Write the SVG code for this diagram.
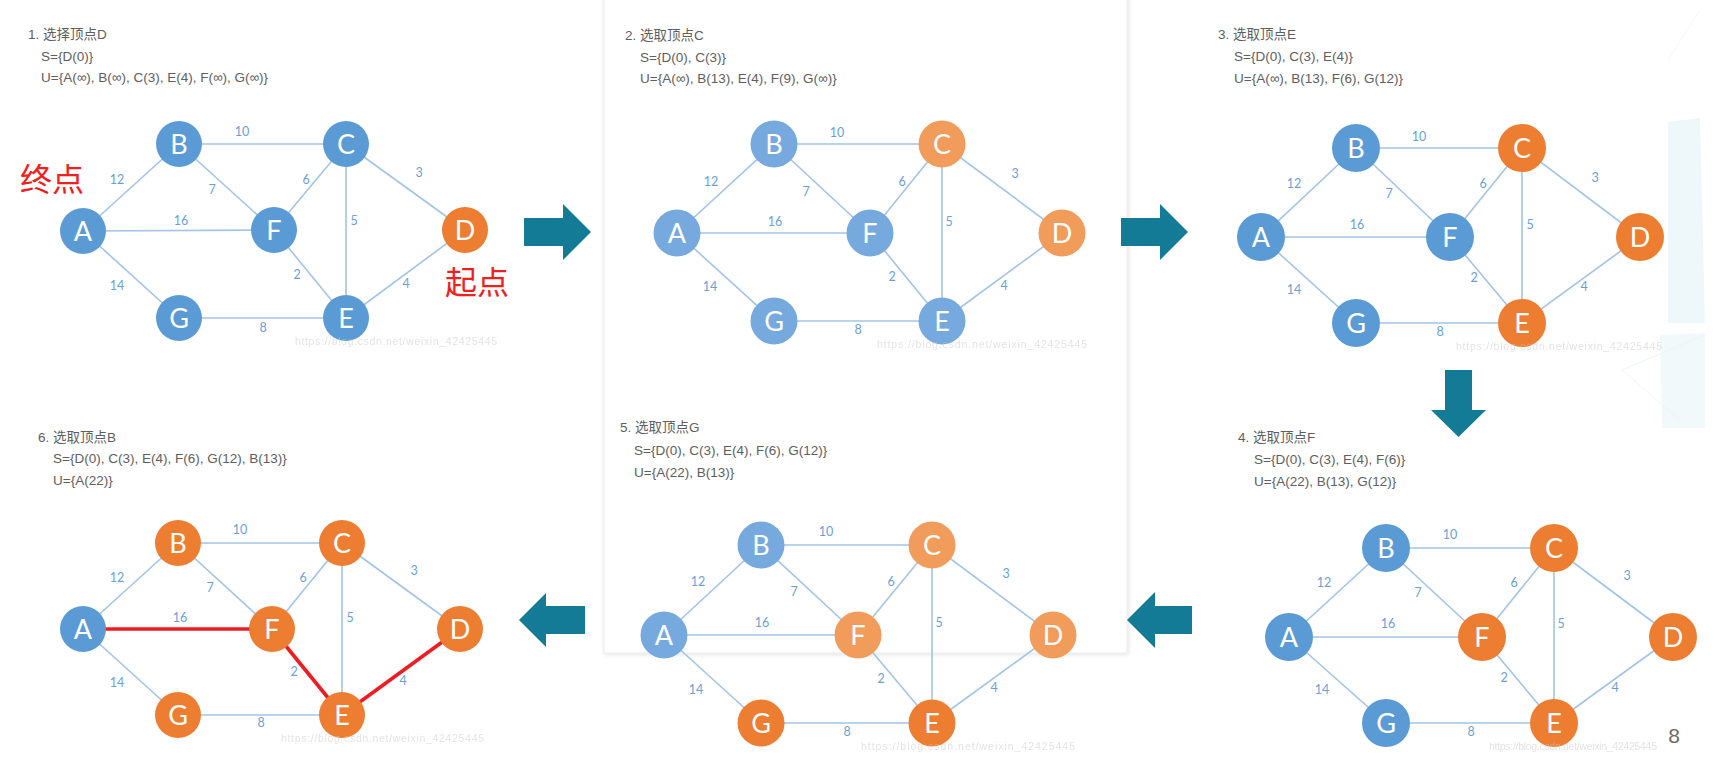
<svg xmlns="http://www.w3.org/2000/svg" width="1728" height="781" viewBox="0 0 1728 781">
<defs>
<style>
.bl{fill:#5b9bd5}.or{fill:#ed7d31}.lbl{fill:#76aade}.lor{fill:#f29c5c}
.e{stroke:#a3c4e6;stroke-width:1.6;fill:none}
.red{stroke:#ee1d23;stroke-width:3.6;fill:none}
.lab{font-family:Lato,"Liberation Sans",sans-serif;font-size:12.5px;fill:#6a9fd6;text-anchor:middle}
.nl{font-family:Lato,"Open Sans",sans-serif;font-size:27px;fill:#fff;text-anchor:middle}
.tx{font-family:"Liberation Sans","Noto Sans CJK SC",sans-serif;font-size:13.5px;fill:#5e5e5e}
.big{font-family:"Noto Sans CJK SC",sans-serif;font-size:32px;fill:#f0201e;text-anchor:middle}
.arr{fill:#137b95}
.w{font-family:"Liberation Sans",sans-serif;font-size:10.5px;fill:#c8c8c8;opacity:0.5}
</style>
<filter id="sh" x="-5%" y="-5%" width="110%" height="110%"><feDropShadow dx="1" dy="1" stdDeviation="2" flood-color="#000" flood-opacity="0.12"/></filter>
</defs>
<rect width="1728" height="781" fill="#ffffff"/>
<g id="bg-deco" opacity="0.6">
<polygon points="1668,122 1700,118 1705,323 1668,323" fill="#e3f2f6"/>
<polygon points="1660,335 1705,333 1705,428 1662,428" fill="#ebf6f9"/>
<line x1="1622" y1="370" x2="1705" y2="335" stroke="#e3eef2"/>
<line x1="1622" y1="370" x2="1680" y2="420" stroke="#e3eef2"/>
<line x1="1668" y1="60" x2="1700" y2="10" stroke="#eef3f5"/>
</g>
<rect id="card" x="604" y="-4" width="523" height="657" fill="#ffffff" stroke="#ebebeb" filter="url(#sh)"/>

<g id="texts">
<text class="tx" x="28" y="39">1. 选择顶点D</text>
<text class="tx" x="41" y="61">S={D(0)}</text>
<text class="tx" x="41" y="82">U={A(∞), B(∞), C(3), E(4), F(∞), G(∞)}</text>
<text class="tx" x="625" y="40">2. 选取顶点C</text>
<text class="tx" x="640" y="62">S={D(0), C(3)}</text>
<text class="tx" x="640" y="83">U={A(∞), B(13), E(4), F(9), G(∞)}</text>
<text class="tx" x="1218" y="39">3. 选取顶点E</text>
<text class="tx" x="1234" y="61">S={D(0), C(3), E(4)}</text>
<text class="tx" x="1234" y="83">U={A(∞), B(13), F(6), G(12)}</text>
<text class="tx" x="1238" y="442">4. 选取顶点F</text>
<text class="tx" x="1254" y="464">S={D(0), C(3), E(4), F(6)}</text>
<text class="tx" x="1254" y="486">U={A(22), B(13), G(12)}</text>
<text class="tx" x="620" y="432">5. 选取顶点G</text>
<text class="tx" x="634" y="455">S={D(0), C(3), E(4), F(6), G(12)}</text>
<text class="tx" x="634" y="477">U={A(22), B(13)}</text>
<text class="tx" x="38" y="442">6. 选取顶点B</text>
<text class="tx" x="53" y="463">S={D(0), C(3), E(4), F(6), G(12), B(13)}</text>
<text class="tx" x="53" y="485">U={A(22)}</text>
<text class="big" x="52" y="191">终点</text>
<text class="big" x="477" y="294">起点</text>
</g>

<g id="connectors">
<g id="edges-p1">
<line class="e" x1="83" y1="231" x2="179" y2="144"/>
<line class="e" x1="83" y1="231" x2="274" y2="230"/>
<line class="e" x1="83" y1="231" x2="179" y2="318"/>
<line class="e" x1="179" y1="144" x2="346" y2="144"/>
<line class="e" x1="179" y1="144" x2="274" y2="230"/>
<line class="e" x1="346" y1="144" x2="274" y2="230"/>
<line class="e" x1="346" y1="144" x2="346" y2="318"/>
<line class="e" x1="346" y1="144" x2="465" y2="230"/>
<line class="e" x1="274" y1="230" x2="346" y2="318"/>
<line class="e" x1="179" y1="318" x2="346" y2="318"/>
<line class="e" x1="346" y1="318" x2="465" y2="230"/>
</g>
<g id="edges-p2">
<line class="e" x1="677" y1="233" x2="774" y2="144"/>
<line class="e" x1="677" y1="233" x2="870" y2="233"/>
<line class="e" x1="677" y1="233" x2="774" y2="321"/>
<line class="e" x1="774" y1="144" x2="942" y2="144"/>
<line class="e" x1="774" y1="144" x2="870" y2="233"/>
<line class="e" x1="942" y1="144" x2="870" y2="233"/>
<line class="e" x1="942" y1="144" x2="942" y2="321"/>
<line class="e" x1="942" y1="144" x2="1062" y2="233"/>
<line class="e" x1="870" y1="233" x2="942" y2="321"/>
<line class="e" x1="774" y1="321" x2="942" y2="321"/>
<line class="e" x1="942" y1="321" x2="1062" y2="233"/>
</g>
<g id="edges-p3">
<line class="e" x1="1261" y1="237" x2="1356" y2="148"/>
<line class="e" x1="1261" y1="237" x2="1450" y2="237"/>
<line class="e" x1="1261" y1="237" x2="1356" y2="323"/>
<line class="e" x1="1356" y1="148" x2="1522" y2="148"/>
<line class="e" x1="1356" y1="148" x2="1450" y2="237"/>
<line class="e" x1="1522" y1="148" x2="1450" y2="237"/>
<line class="e" x1="1522" y1="148" x2="1522" y2="323"/>
<line class="e" x1="1522" y1="148" x2="1640" y2="237"/>
<line class="e" x1="1450" y1="237" x2="1522" y2="323"/>
<line class="e" x1="1356" y1="323" x2="1522" y2="323"/>
<line class="e" x1="1522" y1="323" x2="1640" y2="237"/>
</g>
<g id="edges-p4">
<line class="e" x1="1289" y1="637" x2="1386" y2="548"/>
<line class="e" x1="1289" y1="637" x2="1482" y2="637"/>
<line class="e" x1="1289" y1="637" x2="1386" y2="723"/>
<line class="e" x1="1386" y1="548" x2="1554" y2="548"/>
<line class="e" x1="1386" y1="548" x2="1482" y2="637"/>
<line class="e" x1="1554" y1="548" x2="1482" y2="637"/>
<line class="e" x1="1554" y1="548" x2="1554" y2="723"/>
<line class="e" x1="1554" y1="548" x2="1673" y2="637"/>
<line class="e" x1="1482" y1="637" x2="1554" y2="723"/>
<line class="e" x1="1386" y1="723" x2="1554" y2="723"/>
<line class="e" x1="1554" y1="723" x2="1673" y2="637"/>
</g>
<g id="edges-p5">
<line class="e" x1="664" y1="635" x2="761" y2="545"/>
<line class="e" x1="664" y1="635" x2="858" y2="635"/>
<line class="e" x1="664" y1="635" x2="761" y2="723"/>
<line class="e" x1="761" y1="545" x2="932" y2="545"/>
<line class="e" x1="761" y1="545" x2="858" y2="635"/>
<line class="e" x1="932" y1="545" x2="858" y2="635"/>
<line class="e" x1="932" y1="545" x2="932" y2="723"/>
<line class="e" x1="932" y1="545" x2="1053" y2="635"/>
<line class="e" x1="858" y1="635" x2="932" y2="723"/>
<line class="e" x1="761" y1="723" x2="932" y2="723"/>
<line class="e" x1="932" y1="723" x2="1053" y2="635"/>
</g>
<g id="edges-p6">
<line class="e" x1="83" y1="629" x2="178" y2="543"/>
<line class="e" x1="83" y1="629" x2="178" y2="715"/>
<line class="e" x1="178" y1="543" x2="342" y2="543"/>
<line class="e" x1="178" y1="543" x2="272" y2="629"/>
<line class="e" x1="342" y1="543" x2="272" y2="629"/>
<line class="e" x1="342" y1="543" x2="342" y2="715"/>
<line class="e" x1="342" y1="543" x2="460" y2="629"/>
<line class="e" x1="178" y1="715" x2="342" y2="715"/>
<line class="red" x1="83" y1="629" x2="272" y2="629"/>
<line class="red" x1="272" y1="629" x2="342" y2="715"/>
<line class="red" x1="342" y1="715" x2="460" y2="629"/>
</g>
<g id="step-arrows">
<path class="arr" d="M524,218 H563 V204 L591,232 L563,260 V246 H524 Z"/>
<path class="arr" d="M1121,218 H1160 V204 L1188,232 L1160,260 V246 H1121 Z"/>
<path class="arr" d="M1445,370 V410 H1431 L1458.5,437 L1486,410 H1472 V370 Z"/>
<path class="arr" d="M1192,606 H1155 V592 L1127,620 L1155,648 V634 H1192 Z"/>
<path class="arr" d="M585,606 H546 V593 L519,620 L546,647 V634 H585 Z"/>
</g>
</g>

<g id="edge-labels">
<g class="lab">
<text x="242" y="136">10</text><text x="117" y="184">12</text><text x="212" y="194">7</text><text x="306" y="184">6</text><text x="419" y="177">3</text><text x="181" y="225">16</text><text x="354" y="225">5</text><text x="297" y="279">2</text><text x="406" y="288">4</text><text x="117" y="290">14</text><text x="263" y="332">8</text>
<text x="837" y="137">10</text><text x="711" y="186">12</text><text x="806" y="196">7</text><text x="902" y="186">6</text><text x="1015" y="178">3</text><text x="775" y="226">16</text><text x="949" y="226">5</text><text x="892" y="281">2</text><text x="1004" y="290">4</text><text x="710" y="291">14</text><text x="858" y="334">8</text>
<text x="1419" y="141">10</text><text x="1294" y="188">12</text><text x="1389" y="198">7</text><text x="1483" y="188">6</text><text x="1595" y="182">3</text><text x="1357" y="229">16</text><text x="1530" y="229">5</text><text x="1474" y="282">2</text><text x="1584" y="291">4</text><text x="1294" y="294">14</text><text x="1440" y="336">8</text>
<text x="1450" y="539">10</text><text x="1324" y="587">12</text><text x="1418" y="597">7</text><text x="1514" y="587">6</text><text x="1627" y="580">3</text><text x="1388" y="628">16</text><text x="1561" y="628">5</text><text x="1504" y="682">2</text><text x="1615" y="692">4</text><text x="1322" y="694">14</text><text x="1471" y="736">8</text>
<text x="826" y="536">10</text><text x="698" y="586">12</text><text x="794" y="596">7</text><text x="891" y="586">6</text><text x="1006" y="578">3</text><text x="762" y="627">16</text><text x="939" y="627">5</text><text x="881" y="683">2</text><text x="994" y="692">4</text><text x="696" y="694">14</text><text x="847" y="736">8</text>
<text x="240" y="534">10</text><text x="117" y="582">12</text><text x="210" y="592">7</text><text x="303" y="582">6</text><text x="414" y="575">3</text><text x="180" y="622">16</text><text x="350" y="622">5</text><text x="294" y="676">2</text><text x="403" y="685">4</text><text x="117" y="687">14</text><text x="261" y="727">8</text>
</g>
</g>

<g id="p1-A"><circle class="bl" cx="83" cy="231" r="23"/><text class="nl" x="83" y="240.5">A</text></g>
<g id="p1-B"><circle class="bl" cx="179" cy="144" r="23"/><text class="nl" x="179" y="153.5">B</text></g>
<g id="p1-C"><circle class="bl" cx="346" cy="144" r="23"/><text class="nl" x="346" y="153.5">C</text></g>
<g id="p1-D"><circle class="or" cx="465" cy="230" r="23"/><text class="nl" x="465" y="239.5">D</text></g>
<g id="p1-E"><circle class="bl" cx="346" cy="318" r="23"/><text class="nl" x="346" y="327.5">E</text></g>
<g id="p1-F"><circle class="bl" cx="274" cy="230" r="23"/><text class="nl" x="274" y="239.5">F</text></g>
<g id="p1-G"><circle class="bl" cx="179" cy="318" r="23"/><text class="nl" x="179" y="327.5">G</text></g>

<g id="p2-A"><circle class="lbl" cx="677" cy="233" r="23.5"/><text class="nl" x="677" y="242.5">A</text></g>
<g id="p2-B"><circle class="lbl" cx="774" cy="144" r="23.5"/><text class="nl" x="774" y="153.5">B</text></g>
<g id="p2-C"><circle class="lor" cx="942" cy="144" r="23.5"/><text class="nl" x="942" y="153.5">C</text></g>
<g id="p2-D"><circle class="lor" cx="1062" cy="233" r="23.5"/><text class="nl" x="1062" y="242.5">D</text></g>
<g id="p2-E"><circle class="lbl" cx="942" cy="321" r="23.5"/><text class="nl" x="942" y="330.5">E</text></g>
<g id="p2-F"><circle class="lbl" cx="870" cy="233" r="23.5"/><text class="nl" x="870" y="242.5">F</text></g>
<g id="p2-G"><circle class="lbl" cx="774" cy="321" r="23.5"/><text class="nl" x="774" y="330.5">G</text></g>

<g id="p3-A"><circle class="bl" cx="1261" cy="237" r="24"/><text class="nl" x="1261" y="246.5">A</text></g>
<g id="p3-B"><circle class="bl" cx="1356" cy="148" r="24"/><text class="nl" x="1356" y="157.5">B</text></g>
<g id="p3-C"><circle class="or" cx="1522" cy="148" r="24"/><text class="nl" x="1522" y="157.5">C</text></g>
<g id="p3-D"><circle class="or" cx="1640" cy="237" r="24"/><text class="nl" x="1640" y="246.5">D</text></g>
<g id="p3-E"><circle class="or" cx="1522" cy="323" r="24"/><text class="nl" x="1522" y="332.5">E</text></g>
<g id="p3-F"><circle class="bl" cx="1450" cy="237" r="24"/><text class="nl" x="1450" y="246.5">F</text></g>
<g id="p3-G"><circle class="bl" cx="1356" cy="323" r="24"/><text class="nl" x="1356" y="332.5">G</text></g>

<g id="p4-A"><circle class="bl" cx="1289" cy="637" r="24"/><text class="nl" x="1289" y="646.5">A</text></g>
<g id="p4-B"><circle class="bl" cx="1386" cy="548" r="24"/><text class="nl" x="1386" y="557.5">B</text></g>
<g id="p4-C"><circle class="or" cx="1554" cy="548" r="24"/><text class="nl" x="1554" y="557.5">C</text></g>
<g id="p4-D"><circle class="or" cx="1673" cy="637" r="24"/><text class="nl" x="1673" y="646.5">D</text></g>
<g id="p4-E"><circle class="or" cx="1554" cy="723" r="24"/><text class="nl" x="1554" y="732.5">E</text></g>
<g id="p4-F"><circle class="or" cx="1482" cy="637" r="24"/><text class="nl" x="1482" y="646.5">F</text></g>
<g id="p4-G"><circle class="bl" cx="1386" cy="723" r="24"/><text class="nl" x="1386" y="732.5">G</text></g>

<g id="p5-A"><circle class="lbl" cx="664" cy="635" r="23.5"/><text class="nl" x="664" y="644.5">A</text></g>
<g id="p5-B"><circle class="lbl" cx="761" cy="545" r="23.5"/><text class="nl" x="761" y="554.5">B</text></g>
<g id="p5-C"><circle class="lor" cx="932" cy="545" r="23.5"/><text class="nl" x="932" y="554.5">C</text></g>
<g id="p5-D"><circle class="lor" cx="1053" cy="635" r="23.5"/><text class="nl" x="1053" y="644.5">D</text></g>
<g id="p5-E"><circle class="or" cx="932" cy="723" r="23.5"/><text class="nl" x="932" y="732.5">E</text></g>
<g id="p5-F"><circle class="lor" cx="858" cy="635" r="23.5"/><text class="nl" x="858" y="644.5">F</text></g>
<g id="p5-G"><circle class="or" cx="761" cy="723" r="23.5"/><text class="nl" x="761" y="732.5">G</text></g>

<g id="p6-A"><circle class="bl" cx="83" cy="629" r="23"/><text class="nl" x="83" y="638.5">A</text></g>
<g id="p6-B"><circle class="or" cx="178" cy="543" r="23"/><text class="nl" x="178" y="552.5">B</text></g>
<g id="p6-C"><circle class="or" cx="342" cy="543" r="23"/><text class="nl" x="342" y="552.5">C</text></g>
<g id="p6-D"><circle class="or" cx="460" cy="629" r="23"/><text class="nl" x="460" y="638.5">D</text></g>
<g id="p6-E"><circle class="or" cx="342" cy="715" r="23"/><text class="nl" x="342" y="724.5">E</text></g>
<g id="p6-F"><circle class="or" cx="272" cy="629" r="23"/><text class="nl" x="272" y="638.5">F</text></g>
<g id="p6-G"><circle class="or" cx="178" cy="715" r="23"/><text class="nl" x="178" y="724.5">G</text></g>

<g id="watermarks">
<text class="w" x="295" y="345" textLength="202">https://blog.csdn.net/weixin_42425445</text>
<text class="w" x="877" y="348" textLength="210">https://blog.csdn.net/weixin_42425445</text>
<text class="w" x="1456" y="350" textLength="206">https://blog.csdn.net/weixin_42425445</text>
<text class="w" x="1489" y="750" textLength="168">https://blog.csdn.net/weixin_42425445</text>
<text class="w" x="861" y="750" textLength="214">https://blog.csdn.net/weixin_42425445</text>
<text class="w" x="281" y="742" textLength="203">https://blog.csdn.net/weixin_42425445</text>
</g>
<text x="1674" y="743" font-family="Liberation Sans, sans-serif" font-size="21" fill="#6b6b6b" text-anchor="middle">8</text>
</svg>
